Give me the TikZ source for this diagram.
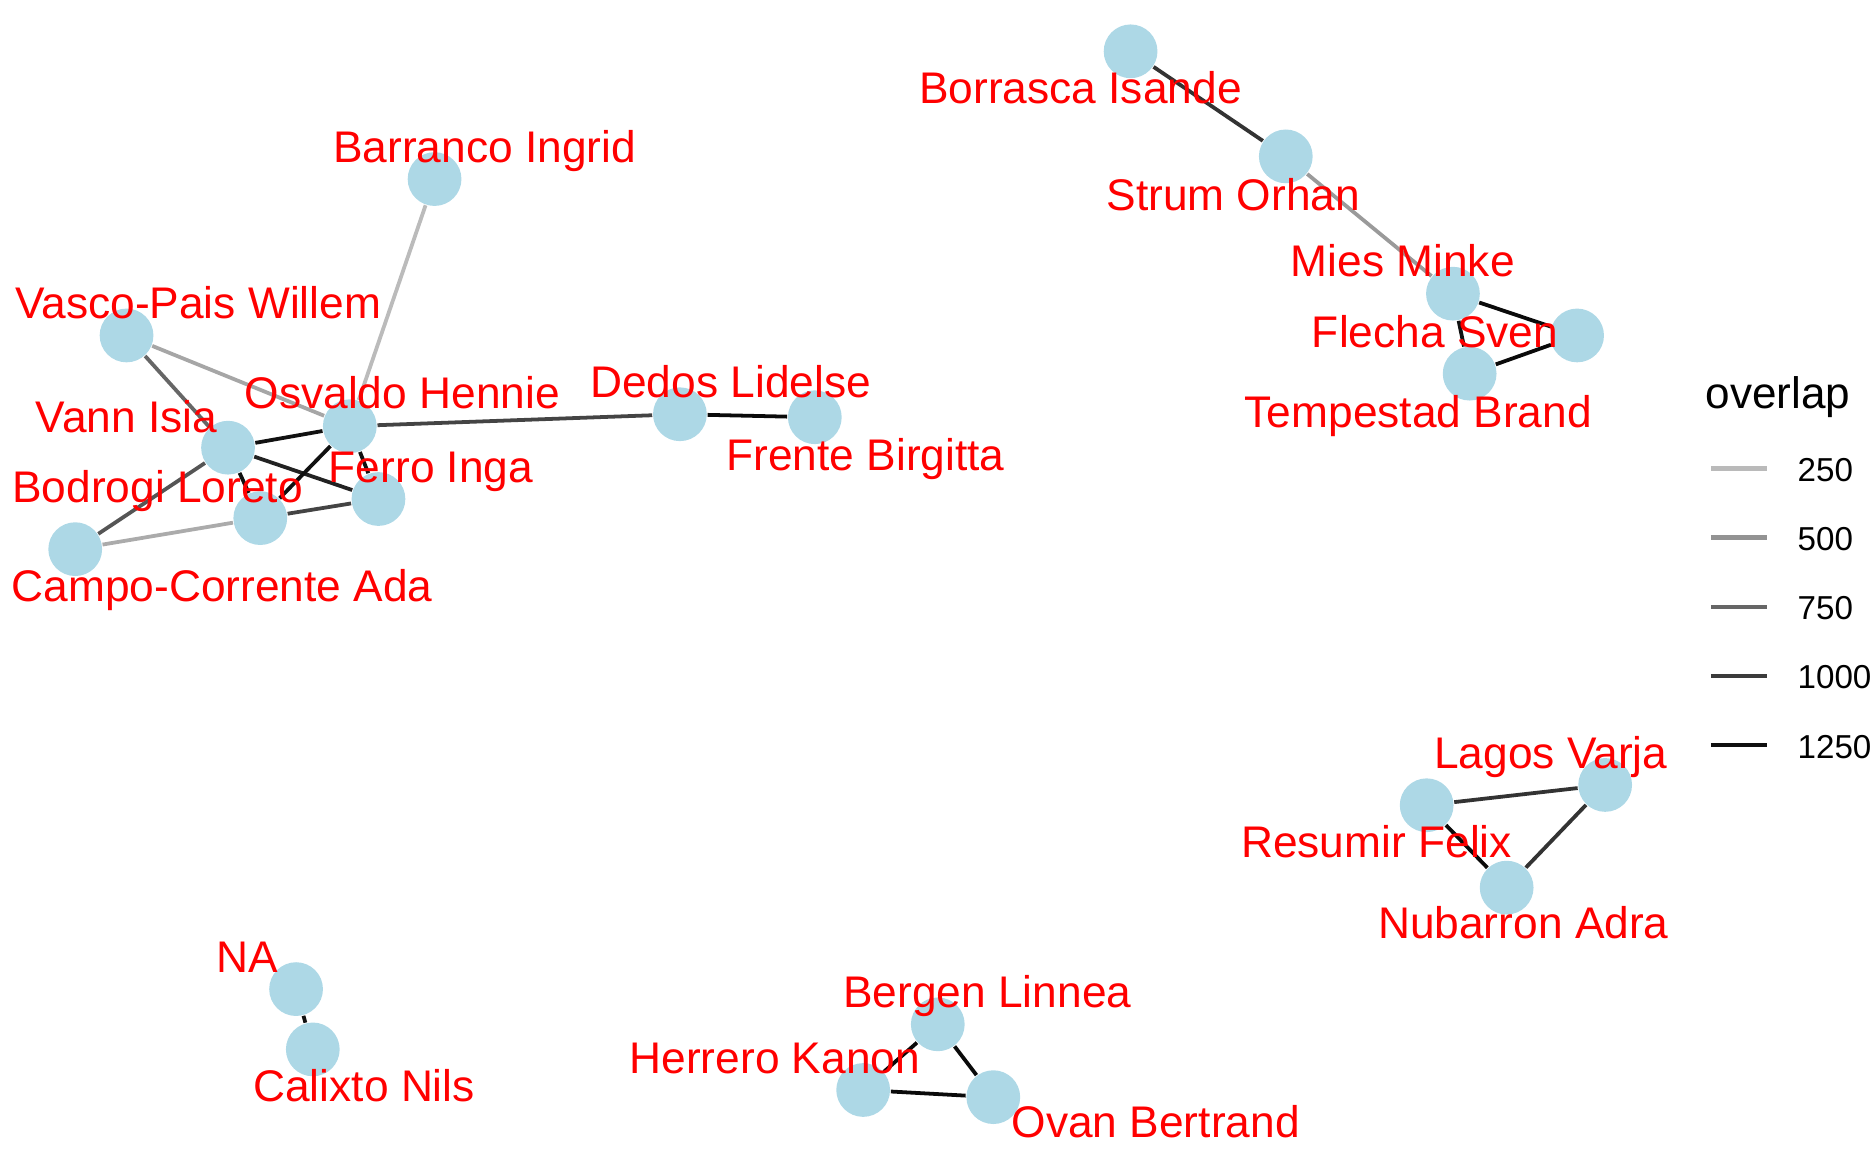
\documentclass[tikz,border=0pt]{standalone}
\usepackage{fontspec}
\setmainfont{Liberation Sans}
\usetikzlibrary{backgrounds}
\definecolor{nodeblue}{HTML}{ADD8E6}
\definecolor{lab}{HTML}{FF0000}
\definecolor{gA}{HTML}{BABABA}
\definecolor{gB}{HTML}{939393}
\definecolor{gC}{HTML}{666666}
\definecolor{gD}{HTML}{3B3B3B}
\definecolor{gE}{HTML}{0F0F0F}
\tikzset{
  vtx/.style={circle, fill=nodeblue, draw=none, minimum size=0.45cm, inner sep=0pt},
  lbl/.style={anchor=base, text=lab, inner sep=0pt, font=\fontsize{10.55}{12}\selectfont},
  edge/.style={line width=0.9pt},
  legline/.style={line width=1.05pt},
  legnum/.style={anchor=base west, inner sep=0pt, font=\fontsize{7.9}{9}\selectfont},
}
\begin{document}
\begin{tikzpicture}[x=0.01cm, y=-0.01cm]
\useasboundingbox (0,0) rectangle (1568,965);
% vertices
\node[vtx] (bor) at (947,43) {};
\node[vtx] (str) at (1077,131) {};
\node[vtx] (mie) at (1217,246) {};
\node[vtx] (fle) at (1321,281) {};
\node[vtx] (tem) at (1231,313) {};
\node[vtx] (bar) at (364,150) {};
\node[vtx] (vas) at (106,281) {};
\node[vtx] (osv) at (293,357) {};
\node[vtx] (van) at (191,375) {};
\node[vtx] (fer) at (317,418) {};
\node[vtx] (bod) at (218,434) {};
\node[vtx] (cam) at (63,460) {};
\node[vtx] (ded) at (569.5,347) {};
\node[vtx] (fre) at (682.5,349.5) {};
\node[vtx] (lag) at (1344.5,657.5) {};
\node[vtx] (res) at (1195,674.5) {};
\node[vtx] (nub) at (1262,743.5) {};
\node[vtx] (na) at (248,828.5) {};
\node[vtx] (cal) at (262,879) {};
\node[vtx] (ber) at (785.5,858) {};
\node[vtx] (her) at (723,913) {};
\node[vtx] (ova) at (832,919) {};
% edges
\begin{scope}[on background layer]
\draw[edge, color={rgb,255:red,187;green,187;blue,187}] (bar) -- (osv);
\draw[edge, color={rgb,255:red,166;green,166;blue,166}] (vas) -- (osv);
\draw[edge, color={rgb,255:red,102;green,102;blue,102}] (vas) -- (van);
\draw[edge, color={rgb,255:red,17;green,17;blue,17}] (van) -- (osv);
\draw[edge, color={rgb,255:red,34;green,34;blue,34}] (van) -- (fer);
\draw[edge, color={rgb,255:red,17;green,17;blue,17}] (van) -- (bod);
\draw[edge, color={rgb,255:red,85;green,85;blue,85}] (van) -- (cam);
\draw[edge, color={rgb,255:red,17;green,17;blue,17}] (osv) -- (bod);
\draw[edge, color={rgb,255:red,17;green,17;blue,17}] (osv) -- (fer);
\draw[edge, color={rgb,255:red,68;green,68;blue,68}] (osv) -- (ded);
\draw[edge, color={rgb,255:red,68;green,68;blue,68}] (bod) -- (fer);
\draw[edge, color={rgb,255:red,171;green,171;blue,171}] (cam) -- (bod);
\draw[edge, color={rgb,255:red,10;green,10;blue,10}] (ded) -- (fre);
\draw[edge, color={rgb,255:red,51;green,51;blue,51}] (bor) -- (str);
\draw[edge, color={rgb,255:red,154;green,154;blue,154}] (str) -- (mie);
\draw[edge, color={rgb,255:red,10;green,10;blue,10}] (mie) -- (fle);
\draw[edge, color={rgb,255:red,10;green,10;blue,10}] (fle) -- (tem);
\draw[edge, color={rgb,255:red,17;green,17;blue,17}] (mie) -- (tem);
\draw[edge, color={rgb,255:red,51;green,51;blue,51}] (res) -- (lag);
\draw[edge, color={rgb,255:red,51;green,51;blue,51}] (lag) -- (nub);
\draw[edge, color={rgb,255:red,10;green,10;blue,10}] (res) -- (nub);
\draw[edge, color={rgb,255:red,17;green,17;blue,17}] (na) -- (cal);
\draw[edge, color={rgb,255:red,10;green,10;blue,10}] (ber) -- (her);
\draw[edge, color={rgb,255:red,10;green,10;blue,10}] (ber) -- (ova);
\draw[edge, color={rgb,255:red,10;green,10;blue,10}] (her) -- (ova);
\end{scope}
% labels
\node[lbl] (l-bor) at (905,87) {Borrasca Isande};
\node[lbl] (l-str) at (1033,176) {Strum Orhan};
\node[lbl] (l-mie) at (1175,232) {Mies Minke};
\node[lbl] (l-fle) at (1202,291) {Flecha Sven};
\node[lbl] (l-tem) at (1188,358) {Tempestad Brand};
\node[lbl] (l-bar) at (406,136) {Barranco Ingrid};
\node[lbl] (l-vas) at (166,267) {Vasco-Pais Willem};
\node[lbl] (l-osv) at (337,342) {Osvaldo Hennie};
\node[lbl] (l-van) at (106,362) {Vann Isia};
\node[lbl] (l-ded) at (612,333) {Dedos Lidelse};
\node[lbl] (l-fre) at (725,394) {Frente Birgitta};
\node[lbl] (l-fer) at (361,404) {Ferro Inga};
\node[lbl] (l-bod) at (132,421) {Bodrogi Loreto};
\node[lbl] (l-cam) at (186,504) {Campo-Corrente Ada};
\node[lbl] (l-lag) at (1299,643.5) {Lagos Varja};
\node[lbl] (l-res) at (1153,718) {Resumir Felix};
\node[lbl] (l-nub) at (1276,786) {Nubarron Adra};
\node[lbl] (l-na) at (207,814.5) {NA};
\node[lbl] (l-cal) at (305,923) {Calixto Nils};
\node[lbl] (l-ber) at (827,844) {Bergen Linnea};
\node[lbl] (l-her) at (649,899) {Herrero Kanon};
\node[lbl] (l-ova) at (968,953) {Ovan Bertrand};
% legend
\node[anchor=base west, inner sep=0pt, font=\fontsize{10.5}{12}\selectfont] (legtitle) at (1428,342) {overlap};
\coordinate (a1) at (1433,392.6); \coordinate (b1) at (1480,392.6);
\coordinate (a2) at (1433,450.4); \coordinate (b2) at (1480,450.4);
\coordinate (a3) at (1433,508.2); \coordinate (b3) at (1480,508.2);
\coordinate (a4) at (1433,566);   \coordinate (b4) at (1480,566);
\coordinate (a5) at (1433,624);   \coordinate (b5) at (1480,624);
\draw[legline, gA] (a1) -- (b1);
\draw[legline, gB] (a2) -- (b2);
\draw[legline, gC] (a3) -- (b3);
\draw[legline, gD] (a4) -- (b4);
\draw[legline, gE] (a5) -- (b5);
\node[legnum] (n1) at (1505,403) {250};
\node[legnum] (n2) at (1505,461) {500};
\node[legnum] (n3) at (1505,519) {750};
\node[legnum] (n4) at (1505,577) {1000};
\node[legnum] (n5) at (1505,635) {1250};
\end{tikzpicture}
\end{document}
